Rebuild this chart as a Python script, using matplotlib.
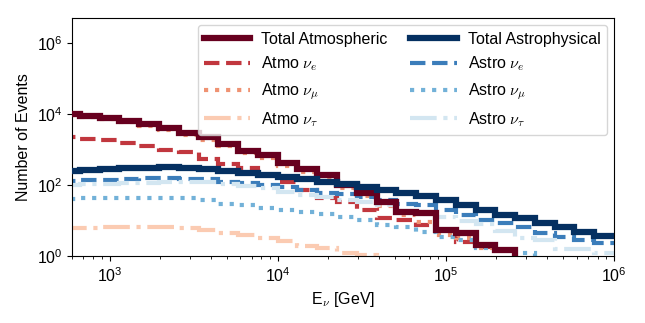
import numpy as np
import matplotlib
matplotlib.use("Agg")
import matplotlib.pyplot as plt

plt.rcParams['font.family'] = ['Liberation Sans', 'DejaVu Sans']
plt.rcParams['mathtext.fontset'] = 'custom'
plt.rcParams['mathtext.rm'] = 'Liberation Sans'
plt.rcParams['mathtext.it'] = 'cmmi10'
plt.rcParams['mathtext.sf'] = 'Liberation Sans'

# log-spaced energy bins (GeV), only the ones shown on the axis
edges = np.logspace(2, 6, 35)[6:]

# event counts per bin
atmo_total = [10200, 8900, 7800, 6500, 5200, 4000, 3000, 2200, 1450, 930,
              680, 430, 290, 186, 100, 60, 33, 18, 16, 5.6,
              4.6, 2.1, 1.5, 0, 0, 0, 0, 0]
atmo_e = [2300, 2040, 1860, 1510, 1230, 1000, 830, 550, 400, 300,
          186, 120, 71, 42, 33, 19.5, 11.5, 10.5, 7.4, 5.4,
          2.5, 1.8, 1.5, 0, 0, 0, 0, 0]
atmo_mu = [9300, 8100, 7100, 5900, 4700, 3500, 2600, 1900, 1260, 790,
           575, 355, 240, 150, 83, 48, 26, 14, 9.1, 3.9,
           3.2, 1.7, 1.5, 0, 0, 0, 0, 0]
atmo_tau = [6.3, 6.3, 6.5, 6.5, 6.5, 6.5, 6.3, 5.4, 4.5, 3.9,
            3.3, 2.7, 1.9, 1.7, 1.2, 1.05, 0, 0, 0, 0,
            0, 0, 0, 0, 0, 0, 0, 0]
astro_total = [257, 269, 282, 295, 309, 316, 309, 288, 251, 219,
               191, 170, 151, 123, 105, 87, 71, 58, 48, 37,
               27.5, 20, 14.8, 11.5, 8.3, 6.6, 4.8, 3.6]
astro_e = [129, 135, 141, 148, 155, 158, 151, 145, 126, 112,
           98, 87, 71, 60, 55, 46, 37, 30, 27, 19.5,
           14.5, 10.7, 8.3, 6.6, 4.4, 3.5, 2.8, 2.3]
astro_mu = [41, 42, 42, 42, 43, 43, 42, 37, 30, 27,
            23, 19.5, 17.4, 15, 12.6, 10.2, 7.4, 6.6, 4.8, 3.5,
            2.8, 1.7, 1.5, 1.26, 0, 0, 0, 0]
astro_tau = [98, 105, 110, 115, 117, 120, 126, 120, 110, 95,
             83, 63, 51, 46, 39, 33, 27, 16, 15, 13,
             10, 8, 5, 3.3, 2.8, 1.6, 1.55, 1.2]

fig = plt.figure(figsize=(6.45, 3.23), dpi=100)
ax = fig.add_axes([0.112, 0.207, 0.84, 0.737])

lw_tot = 4.5
lw = 3.0

h1 = ax.stairs(atmo_total, edges, baseline=None, color='#67001f', lw=lw_tot, label='Total Atmospheric', zorder=3)
h2 = ax.stairs(atmo_e, edges, baseline=None, color='#c1373e', lw=lw, ls='--', label=r'Atmo $\nu_e$')
h3 = ax.stairs(atmo_mu, edges, baseline=None, color='#ef9272', lw=lw, ls=':', label=r'Atmo $\nu_\mu$')
h4 = ax.stairs(atmo_tau, edges, baseline=None, color='#fbcbb2', lw=lw, ls='-.', label=r'Atmo $\nu_\tau$')
h5 = ax.stairs(astro_total, edges, baseline=None, color='#053061', lw=lw_tot, label='Total Astrophysical', zorder=3)
h6 = ax.stairs(astro_e, edges, baseline=None, color='#3b7dba', lw=lw, ls='--', label=r'Astro $\nu_e$')
h7 = ax.stairs(astro_mu, edges, baseline=None, color='#72b1d8', lw=lw, ls=':', label=r'Astro $\nu_\mu$')
h8 = ax.stairs(astro_tau, edges, baseline=None, color='#d3e6f1', lw=lw, ls='-.', label=r'Astro $\nu_\tau$')

ax.set_xscale('log')
ax.set_yscale('log')
ax.set_xlim(600, 1e6)
ax.set_ylim(1, 5e6)
ax.set_yticks([1, 1e2, 1e4, 1e6])
ax.yaxis.set_minor_locator(matplotlib.ticker.NullLocator())
ax.tick_params(labelsize=11.5)

ax.set_xlabel(r'E$_\nu$ [GeV]', fontsize=11.5)
ax.set_ylabel('Number of Events', fontsize=11.5)

ax.legend(handles=[h1, h2, h3, h4, h5, h6, h7, h8], ncol=2, loc='upper right',
          fontsize=11.5, handlelength=2.9, columnspacing=1.4, labelspacing=0.5,
          borderaxespad=0.45, handletextpad=0.7)

fig.savefig('out.png', dpi=100)
